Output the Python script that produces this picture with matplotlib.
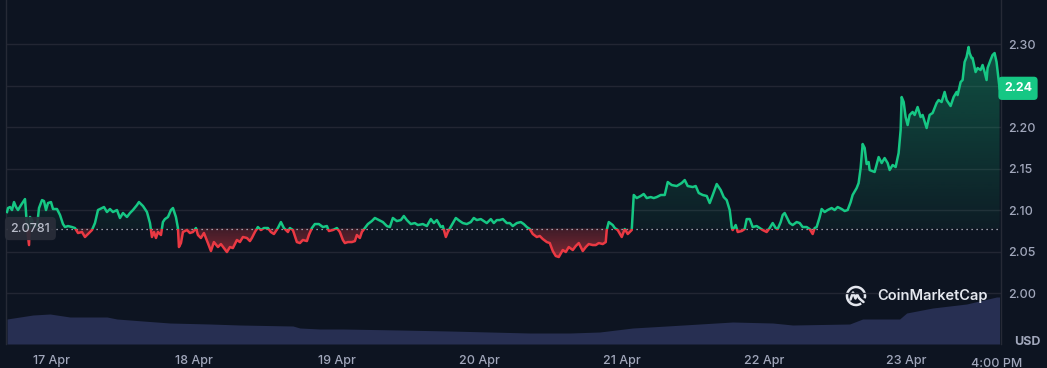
import matplotlib
import numpy as np

matplotlib.use("Agg")

from matplotlib import pyplot as plt
from matplotlib.colors import to_rgb
from matplotlib.patches import Arc, Rectangle
from matplotlib.path import Path as MplPath
from matplotlib.transforms import blended_transform_factory

# hours since 17 Apr 00:00, price in USD
HOURS = [
    -7.58, -7.41, -7.07, -6.74, -6.40, -6.06, -5.73, -5.22, -4.88, -4.55, -4.38, -4.21, -3.87, -3.71,
    -3.37, -3.20, -2.53, -2.19, -1.68, -1.35, -1.01, -0.67, -0.17, 0.17, 0.84, 1.35, 1.85, 2.19,
    2.69, 3.37, 3.87, 4.38, 5.05, 5.56, 6.06, 6.74, 7.24, 7.75, 8.42, 8.76, 9.26, 9.77,
    10.27, 10.95, 11.45, 11.96, 12.63, 13.14, 13.64, 14.32, 14.65, 15.33, 16.00, 16.51, 16.84, 17.18,
    17.52, 17.85, 18.36, 18.69, 19.03, 19.54, 20.04, 20.38, 20.88, 21.22, 21.39, 21.73, 22.06, 22.74,
    23.24, 23.75, 24.25, 24.59, 25.09, 25.60, 26.27, 26.78, 27.28, 27.96, 28.46, 28.97, 29.47, 29.98,
    30.48, 31.16, 31.66, 32.17, 32.84, 33.35, 33.68, 34.19, 34.69, 35.20, 35.71, 36.38, 36.88, 37.39,
    38.06, 38.57, 39.07, 39.75, 40.08, 40.59, 41.26, 41.77, 42.27, 42.95, 43.28, 43.79, 44.29, 44.97,
    45.64, 46.32, 46.65, 47.33, 48.00, 48.50, 49.01, 49.35, 49.85, 50.53, 51.03, 51.37, 51.87, 52.21,
    52.72, 53.22, 53.89, 54.40, 55.07, 55.75, 56.42, 56.93, 57.43, 58.10, 58.78, 59.28, 59.79, 60.46,
    61.14, 61.64, 62.48, 63.16, 63.83, 64.34, 64.84, 65.51, 65.85, 66.36, 66.69, 67.37, 68.04, 68.72,
    69.22, 69.89, 70.57, 71.07, 71.58, 72.25, 72.76, 73.26, 73.94, 74.44, 74.95, 75.45, 75.96, 76.63,
    77.14, 77.64, 78.32, 78.99, 79.49, 80.00, 80.50, 81.01, 81.68, 82.19, 82.69, 83.37, 83.87, 84.38,
    84.88, 85.39, 86.06, 86.57, 87.07, 87.75, 88.25, 88.76, 89.43, 89.94, 90.44, 91.11, 91.62, 92.13,
    92.80, 93.30, 93.47, 93.81, 94.48, 94.82, 95.32, 96.00, 96.50, 97.01, 97.68, 98.02, 98.52, 99.20,
    99.70, 100.21, 100.88, 101.39, 101.89, 102.57, 103.24, 103.75, 104.42, 105.26, 106.10, 106.61, 107.11, 107.96,
    108.46, 108.97, 109.64, 110.32, 110.82, 111.33, 112.00, 112.67, 113.18, 113.68, 114.19, 114.53, 114.69, 115.20,
    115.54, 116.21, 116.71, 117.05, 117.56, 118.06, 118.74, 119.75, 120.42, 120.92, 121.43, 121.94, 122.27, 122.78,
    123.12, 123.45, 123.79, 124.29, 124.80, 125.47, 125.98, 126.48, 127.16, 127.66, 128.17, 128.50, 128.84, 129.35,
    129.68, 130.19, 130.69, 131.37, 131.87, 132.38, 133.05, 133.56, 134.06, 134.57, 134.90, 135.58, 135.91, 136.25,
    136.59, 136.93, 137.26, 137.60, 137.77, 138.61, 139.28, 139.79, 140.29, 140.80, 141.14, 141.64, 142.15, 142.65,
    142.99, 143.16, 143.50, 143.83, 144.17, 144.50, 145.01, 145.35, 145.85, 146.36, 146.69, 147.37, 147.87, 148.38,
    149.05, 149.39, 149.89, 150.40, 150.74, 151.41, 151.92, 152.42, 152.59, 153.10, 153.43, 153.77, 154.10, 154.44,
    154.61, 154.95, 155.11, 155.62, 155.96, 156.46, 156.80, 157.14, 157.47, 157.64, 158.14, 158.48, 158.82, 159.15,
    159.66,
]
PRICES = [
    2.0980, 2.1028, 2.1040, 2.1004, 2.1100, 2.1040, 2.1004, 2.1064, 2.1100, 2.1136, 2.0980, 2.0787, 2.0582, 2.0920,
    2.0883, 2.0823, 2.0799, 2.1028, 2.1124, 2.1112, 2.1004, 2.1088, 2.1100, 2.1016, 2.1016, 2.0944, 2.0835, 2.0799,
    2.0811, 2.0799, 2.0787, 2.0727, 2.0739, 2.0679, 2.0715, 2.0763, 2.0847, 2.1004, 2.1028, 2.1040, 2.0980, 2.1016,
    2.0980, 2.1004, 2.0908, 2.0968, 2.0920, 2.0968, 2.1004, 2.1064, 2.1100, 2.1052, 2.0980, 2.0847, 2.0679, 2.0739,
    2.0667, 2.0739, 2.0703, 2.0859, 2.0895, 2.0920, 2.1004, 2.1028, 2.0920, 2.0787, 2.0558, 2.0606, 2.0739, 2.0763,
    2.0727, 2.0739, 2.0787, 2.0703, 2.0667, 2.0727, 2.0606, 2.0510, 2.0618, 2.0558, 2.0594, 2.0546, 2.0498, 2.0558,
    2.0546, 2.0643, 2.0618, 2.0679, 2.0667, 2.0630, 2.0667, 2.0739, 2.0799, 2.0763, 2.0787, 2.0787, 2.0739, 2.0715,
    2.0787, 2.0859, 2.0787, 2.0739, 2.0787, 2.0763, 2.0618, 2.0606, 2.0643, 2.0630, 2.0703, 2.0787, 2.0835, 2.0835,
    2.0799, 2.0811, 2.0751, 2.0763, 2.0787, 2.0739, 2.0643, 2.0606, 2.0618, 2.0618, 2.0630, 2.0703, 2.0667, 2.0739,
    2.0787, 2.0835, 2.0871, 2.0908, 2.0883, 2.0859, 2.0811, 2.0799, 2.0908, 2.0871, 2.0883, 2.0932, 2.0883, 2.0835,
    2.0847, 2.0823, 2.0835, 2.0811, 2.0895, 2.0847, 2.0883, 2.0799, 2.0811, 2.0679, 2.0739, 2.0823, 2.0908, 2.0871,
    2.0847, 2.0835, 2.0859, 2.0908, 2.0883, 2.0895, 2.0871, 2.0847, 2.0895, 2.0847, 2.0883, 2.0883, 2.0895, 2.0847,
    2.0847, 2.0811, 2.0847, 2.0859, 2.0835, 2.0799, 2.0775, 2.0715, 2.0679, 2.0691, 2.0655, 2.0618, 2.0606, 2.0510,
    2.0450, 2.0438, 2.0522, 2.0498, 2.0558, 2.0522, 2.0570, 2.0606, 2.0510, 2.0558, 2.0594, 2.0582, 2.0582, 2.0606,
    2.0594, 2.0618, 2.0763, 2.0859, 2.0823, 2.0787, 2.0763, 2.0679, 2.0775, 2.0715, 2.0763, 2.1185, 2.1148, 2.1173,
    2.1197, 2.1148, 2.1160, 2.1148, 2.1160, 2.1185, 2.1185, 2.1341, 2.1305, 2.1293, 2.1329, 2.1365, 2.1293, 2.1281,
    2.1293, 2.1209, 2.1185, 2.1173, 2.1088, 2.1185, 2.1317, 2.1245, 2.1160, 2.1124, 2.1004, 2.0799, 2.0763, 2.0823,
    2.0739, 2.0751, 2.0775, 2.0895, 2.0895, 2.0799, 2.0811, 2.0763, 2.0739, 2.0787, 2.0847, 2.0787, 2.0775, 2.0859,
    2.0944, 2.0968, 2.0920, 2.0847, 2.0823, 2.0859, 2.0847, 2.0799, 2.0799, 2.0775, 2.0715, 2.0787, 2.0799, 2.0920,
    2.1016, 2.0980, 2.1004, 2.1028, 2.1004, 2.1040, 2.1016, 2.0992, 2.1004, 2.1100, 2.1185, 2.1269, 2.1329, 2.1510,
    2.1799, 2.1751, 2.1558, 2.1582, 2.1486, 2.1462, 2.1642, 2.1570, 2.1630, 2.1570, 2.1486, 2.1546, 2.1522, 2.1691,
    2.1968, 2.2365, 2.2305, 2.2124, 2.2028, 2.2149, 2.2185, 2.2149, 2.2245, 2.2124, 2.2149, 2.1992, 2.2149, 2.2173,
    2.2293, 2.2329, 2.2305, 2.2426, 2.2329, 2.2257, 2.2365, 2.2426, 2.2389, 2.2546, 2.2570, 2.2787, 2.2847, 2.2968,
    2.2895, 2.2835, 2.2835, 2.2666, 2.2715, 2.2691, 2.2751, 2.2666, 2.2570, 2.2715, 2.2811, 2.2871, 2.2895, 2.2787,
    2.2470,
]
BASE_PRICE = 2.0781
BASE_LABEL = "2.0781"
LAST_LABEL = "2.24"

VOLUME_HOURS = [
    -7.58, -3.20, -0.34, 3.03, 9.26, 10.95, 15.33, 19.87, 26.61, 31.66, 40.59, 41.77, 45.14, 49.01,
    58.61, 67.03, 80.50, 87.24, 92.29, 97.85, 103.58, 114.69, 121.43, 124.80, 134.40, 136.59, 142.82, 144.00,
    148.38, 154.10, 159.15, 159.66,
]
VOLUMES = [
    500, 580, 600, 540, 540, 500, 460, 420, 400, 380, 360, 320, 300, 300,
    280, 260, 220, 220, 240, 320, 360, 440, 420, 380, 400, 500, 500, 620,
    720, 800, 940, 940,
]

PRICE_TICKS = [2.00, 2.05, 2.10, 2.15, 2.20, 2.25, 2.30]
PRICE_TICK_LABELS = ["2.00", "2.05", "2.10", "2.15", "2.20", "", "2.30"]
DAY_TICKS = [0, 24, 48, 72, 96, 120, 144]
DAY_LABELS = ["17 Apr", "18 Apr", "19 Apr", "20 Apr", "21 Apr", "22 Apr", "23 Apr"]
END_LABEL = "4:00 PM"

BG = "#0d1421"
GREEN = "#16c784"
RED = "#ea3943"
GRID = "#222633"
TEXT = "#a1a7bb"

plt.rcParams["font.family"] = ["Inter", "DejaVu Sans"]


def gradient_fill(axis, x, y, base, above, color, alpha_edge, alpha_base, y_far):
    where = y >= base if above else y <= base
    poly = axis.fill_between(x, y, base, where=where, interpolate=True, facecolor="none", edgecolor="none")
    clip = MplPath.make_compound_path(*poly.get_paths())
    rgb = to_rgb(color)
    grad = np.zeros((256, 1, 4))
    grad[:, 0, :3] = rgb
    ramp = np.linspace(0.0, 1.0, 256)
    if above:
        grad[:, 0, 3] = alpha_base + (alpha_edge - alpha_base) * ramp
        extent = [x[0], x[-1], base, y_far]
    else:
        grad[:, 0, 3] = alpha_edge + (alpha_base - alpha_edge) * ramp
        extent = [x[0], x[-1], y_far, base]
    image = axis.imshow(grad, extent=extent, origin="lower", aspect="auto", zorder=2, interpolation="bilinear")
    image.set_clip_path(clip, axis.transData)


hours = np.array(HOURS)
prices = np.array(PRICES)

fig = plt.figure(figsize=(10.47, 3.68), dpi=100, facecolor=BG)
ax = fig.add_axes([6 / 1047, 24 / 368, 995 / 1047, 344 / 368])
vol_ax = ax.twinx()
ax.set_zorder(2)
ax.patch.set_visible(False)
vol_ax.set_facecolor(BG)

vol_ax.fill_between(VOLUME_HOURS, VOLUMES, 0, color="#272f52", linewidth=0)
vol_ax.set_ylim(0, 6880)
vol_ax.set_yticks([])
for spine in vol_ax.spines.values():
    spine.set_visible(False)

x_min, x_max = -7.75, 159.9
y_min, y_max = 1.9390, 2.3534

gradient_fill(ax, hours, prices, BASE_PRICE, True, GREEN, 0.42, 0.05, y_max)
gradient_fill(ax, hours, prices, BASE_PRICE, False, RED, 0.55, 0.22, 2.04)

above_clip = Rectangle((x_min, BASE_PRICE), x_max - x_min, y_max - BASE_PRICE, transform=ax.transData)
below_clip = Rectangle((x_min, y_min), x_max - x_min, BASE_PRICE - y_min, transform=ax.transData)
(green_line,) = ax.plot(hours, prices, color=GREEN, linewidth=1.8, zorder=4, solid_joinstyle="round")
green_line.set_clip_path(above_clip)
(red_line,) = ax.plot(hours, prices, color=RED, linewidth=1.8, zorder=4, solid_joinstyle="round")
red_line.set_clip_path(below_clip)

ax.axhline(BASE_PRICE, color="#c3c7d1", linewidth=0.9, linestyle=(0, (1, 3)), zorder=3)

ax.set_xlim(x_min, x_max)
ax.set_ylim(y_min, y_max)
vol_ax.set_xlim(x_min, x_max)

ax.yaxis.tick_right()
ax.set_yticks(PRICE_TICKS)
ax.set_yticklabels(PRICE_TICK_LABELS)
ax.set_xticks(DAY_TICKS)
ax.set_xticklabels(DAY_LABELS)
ax.tick_params(axis="y", length=0, pad=5, labelsize=9, labelcolor=TEXT)
ax.tick_params(axis="x", length=0, pad=8, labelsize=9, labelcolor=TEXT)
for label in ax.get_xticklabels() + ax.get_yticklabels():
    label.set_fontweight("medium")
ax.grid(axis="y", color=GRID, linewidth=1)
ax.set_axisbelow(True)
for side in ("top", "bottom"):
    ax.spines[side].set_visible(False)
for side in ("left", "right"):
    ax.spines[side].set_color("#262a36")
    ax.spines[side].set_linewidth(1)

ax.text(hours[-1] - 0.5, -0.057, END_LABEL, transform=blended_transform_factory(ax.transData, ax.transAxes),
        ha="center", va="center", fontsize=9, color=TEXT, fontweight="medium")
fig.text(1027 / 1047, 1 - 342 / 368, "USD", ha="center", va="center", fontsize=9, color=TEXT, fontweight="bold")

side_transform = blended_transform_factory(ax.transAxes, ax.transData)
ax.text(0.0245, BASE_PRICE, BASE_LABEL, transform=side_transform, ha="center", va="center", fontsize=9,
        color="#b9bdca", fontweight="medium", zorder=6,
        bbox=dict(boxstyle="round,pad=0.45,rounding_size=0.35", facecolor="#2a2e3a", edgecolor="none", alpha=0.92))
ax.text(1.0 + 17 / 995, prices[-1], LAST_LABEL, transform=side_transform, ha="center", va="center", fontsize=9,
        color="white", fontweight="bold", clip_on=False, zorder=6,
        bbox=dict(boxstyle="round,pad=0.45,rounding_size=0.3", facecolor=GREEN, edgecolor="none"))

# CoinMarketCap watermark
fig.text(877 / 1047, 1 - 296 / 368, "CoinMarketCap", ha="left", va="center", fontsize=10.5,
         color="#e4e7ee", fontweight="semibold")
logo_ax = fig.add_axes([845 / 1047, 1 - 307 / 368, 22 / 1047, 22 / 368])
logo_ax.set_xlim(-1.1, 1.1)
logo_ax.set_ylim(-1.1, 1.1)
logo_ax.axis("off")
logo_ax.add_patch(Arc((0, 0), 1.8, 1.8, theta1=-15, theta2=305, color="#e4e7ee", linewidth=1.8))
logo_ax.plot([-0.55, -0.3, -0.05, 0.1, 0.3, 0.45, 0.75], [-0.35, 0.35, -0.25, 0.2, -0.2, -0.35, -0.6],
             color="#e4e7ee", linewidth=1.8, solid_capstyle="round", solid_joinstyle="round")

fig.savefig("out.png", dpi=100, facecolor=BG)
